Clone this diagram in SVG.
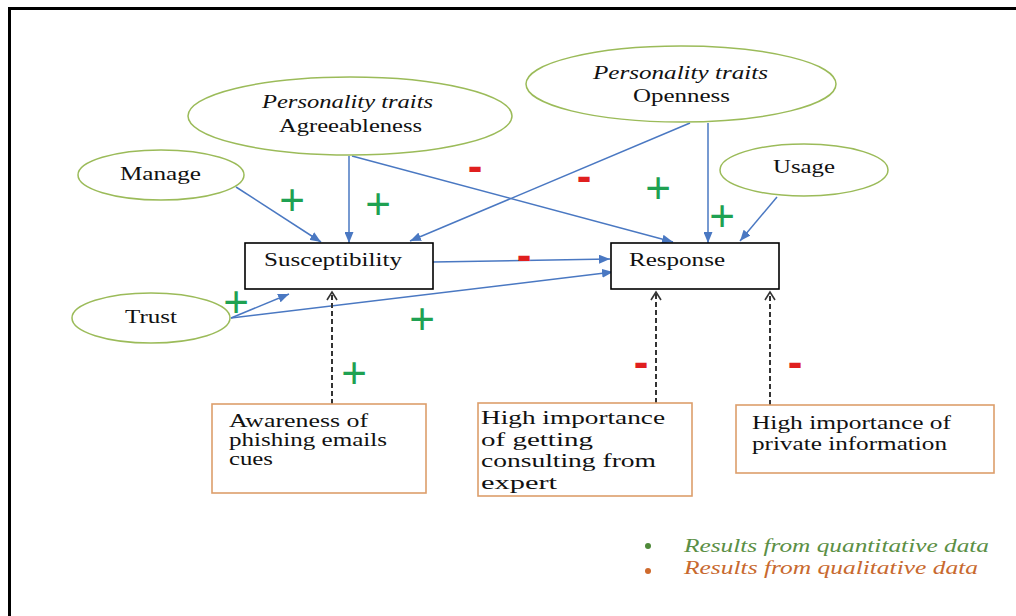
<svg xmlns="http://www.w3.org/2000/svg" width="1016" height="616" viewBox="0 0 1016 616">
  <style>
    .ell { fill: #ffffff; stroke: #9bbb59; stroke-width: 1.5; }
    .box { fill: #ffffff; stroke: #000000; stroke-width: 1.6; }
    .obox { fill: #ffffff; stroke: #dd9e6b; stroke-width: 1.6; }
    .lbl { font-family: "Liberation Serif", "Times New Roman", serif; font-size: 19px; fill: #111111; }
    .it { font-style: italic; }
    .blue { fill: none; stroke: #4a78c2; stroke-width: 1.5; marker-end: url(#ah); }
    .dash { fill: none; stroke: #333333; stroke-width: 2; stroke-dasharray: 5 3; marker-end: url(#oh); }
    .plus { font-family: "Liberation Sans", Arial, sans-serif; font-size: 44px; fill: #1fa152; text-anchor: middle; }
    .minus { font-family: "Liberation Sans", Arial, sans-serif; font-size: 44px; font-weight: bold; fill: #e01f1f; text-anchor: middle; }
    .leg { font-family: "Liberation Serif", "Times New Roman", serif; font-size: 18px; font-style: italic; }
  </style>
  <defs>
    <marker id="ah" markerUnits="userSpaceOnUse" markerWidth="11" markerHeight="9" refX="11" refY="4.5" orient="auto">
      <path d="M0,0 L11,4.5 L0,9 z" fill="#4a78c2"/>
    </marker>
    <marker id="oh" markerUnits="userSpaceOnUse" markerWidth="12" markerHeight="12" refX="9" refY="6" orient="auto">
      <path d="M1,1 L9,6 L1,11" fill="none" stroke="#333333" stroke-width="1.6"/>
    </marker>
  </defs>

  <rect width="1016" height="616" fill="#ffffff"/>
  <!-- frame -->
  <path d="M9.5,616 V8.5 H1016" fill="none" stroke="#000000" stroke-width="3"/>

  <!-- connectors -->
  <g id="connectors">
    <path class="blue" d="M236,187 L321,242"/>
    <path class="blue" d="M349,156 L349,243"/>
    <path class="blue" d="M352,156 L673,242"/>
    <path class="blue" d="M690,123 L410,241"/>
    <path class="blue" d="M708,123 L708,243"/>
    <path class="blue" d="M777,197 L740,241"/>
    <path class="blue" d="M433,262 L610,259"/>
    <path class="blue" d="M231,318 L289,294"/>
    <path class="blue" d="M231,318 L613,272"/>
    <path class="dash" d="M332,404 L332,292"/>
    <path class="dash" d="M656,403 L656,292"/>
    <path class="dash" d="M770,405 L770,292"/>
  </g>

  <!-- nodes -->
  <g id="agreeableness">
    <ellipse class="ell" cx="350" cy="116" rx="162" ry="39"/>
    <text class="lbl it" x="262" y="108" textLength="171" lengthAdjust="spacingAndGlyphs">Personality traits</text>
    <text class="lbl" x="279" y="132" textLength="143" lengthAdjust="spacingAndGlyphs">Agreeableness</text>
  </g>
  <g id="openness">
    <ellipse class="ell" cx="681" cy="84" rx="155" ry="38"/>
    <text class="lbl it" x="593" y="79" textLength="175" lengthAdjust="spacingAndGlyphs">Personality traits</text>
    <text class="lbl" x="633" y="102" textLength="97" lengthAdjust="spacingAndGlyphs">Openness</text>
  </g>
  <g id="manage">
    <ellipse class="ell" cx="161" cy="175" rx="83" ry="25"/>
    <text class="lbl" x="120" y="180" textLength="81" lengthAdjust="spacingAndGlyphs">Manage</text>
  </g>
  <g id="usage">
    <ellipse class="ell" cx="804" cy="170" rx="84" ry="26"/>
    <text class="lbl" x="773" y="173" textLength="62" lengthAdjust="spacingAndGlyphs">Usage</text>
  </g>
  <g id="trust">
    <ellipse class="ell" cx="151" cy="318" rx="79" ry="25"/>
    <text class="lbl" x="125" y="323" textLength="52" lengthAdjust="spacingAndGlyphs">Trust</text>
  </g>
  <g id="susceptibility">
    <rect class="box" x="245" y="243" width="188" height="46"/>
    <text class="lbl" x="264" y="266" textLength="138" lengthAdjust="spacingAndGlyphs">Susceptibility</text>
  </g>
  <g id="response">
    <rect class="box" x="611" y="243" width="168" height="46"/>
    <text class="lbl" x="629" y="266" textLength="96" lengthAdjust="spacingAndGlyphs">Response</text>
  </g>
  <g id="awareness">
    <rect class="obox" x="212" y="404" width="214" height="89"/>
    <text class="lbl" x="229" y="427" textLength="139" lengthAdjust="spacingAndGlyphs">Awareness of</text>
    <text class="lbl" x="229" y="446" textLength="158" lengthAdjust="spacingAndGlyphs">phishing emails</text>
    <text class="lbl" x="229" y="465" textLength="44" lengthAdjust="spacingAndGlyphs">cues</text>
  </g>
  <g id="consulting">
    <rect class="obox" x="478" y="403" width="214" height="93"/>
    <text class="lbl" x="481" y="424" textLength="184" lengthAdjust="spacingAndGlyphs">High importance</text>
    <text class="lbl" x="481" y="446" textLength="112" lengthAdjust="spacingAndGlyphs">of getting</text>
    <text class="lbl" x="481" y="467" textLength="175" lengthAdjust="spacingAndGlyphs">consulting from</text>
    <text class="lbl" x="481" y="489" textLength="76" lengthAdjust="spacingAndGlyphs">expert</text>
  </g>
  <g id="private">
    <rect class="obox" x="736" y="405" width="258" height="68"/>
    <text class="lbl" x="752" y="429" textLength="199" lengthAdjust="spacingAndGlyphs">High importance of</text>
    <text class="lbl" x="752" y="450" textLength="195" lengthAdjust="spacingAndGlyphs">private information</text>
  </g>

  <!-- effect signs -->
  <g id="signs">
    <text class="plus" x="292" y="215">+</text>
    <text class="plus" x="378" y="219">+</text>
    <text class="plus" x="236" y="317">+</text>
    <text class="plus" x="422" y="334">+</text>
    <text class="plus" x="658" y="203">+</text>
    <text class="plus" x="722" y="231">+</text>
    <text class="plus" x="354" y="388">+</text>
    <text class="minus" x="475" y="181">-</text>
    <text class="minus" x="584" y="191">-</text>
    <text class="minus" x="524" y="270">-</text>
    <text class="minus" x="641" y="377">-</text>
    <text class="minus" x="795" y="377">-</text>
  </g>

  <!-- legend -->
  <g id="legend">
    <circle cx="648" cy="546" r="3" fill="#4f8a3a"/>
    <text class="leg" x="684" y="552" fill="#5b8f45" textLength="305" lengthAdjust="spacingAndGlyphs">Results from quantitative data</text>
    <circle cx="648" cy="571" r="3" fill="#cf6a2c"/>
    <text class="leg" x="684" y="574" fill="#c8692e" textLength="294" lengthAdjust="spacingAndGlyphs">Results from qualitative data</text>
  </g>
</svg>
